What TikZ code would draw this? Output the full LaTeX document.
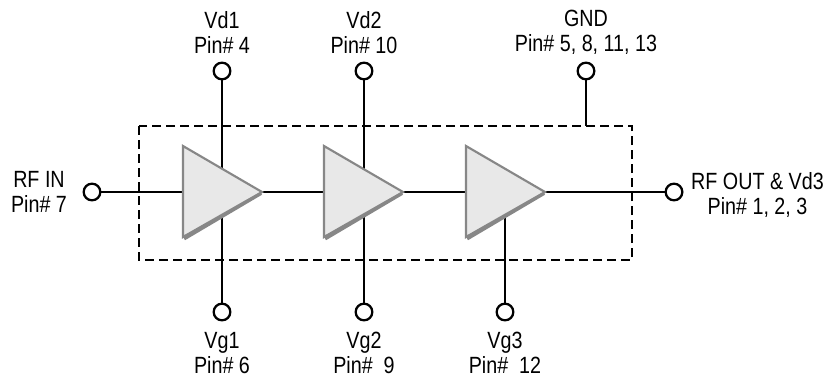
\documentclass[tikz,border=0pt]{standalone}
\usepackage{fontspec}
\setmainfont[FakeStretch=0.84]{Liberation Sans}
\usetikzlibrary{arrows,calc,positioning}
\definecolor{ampgrey}{rgb}{0.53, 0.53, 0.53}
\definecolor{ampfill}{rgb}{0.91, 0.91, 0.91}
\tikzstyle{pin} = [circle, draw=black, line width=1.7pt, fill=white, minimum size=12.5pt, inner sep=0pt]
\tikzstyle{wire} = [line width=1.7pt]
\tikzstyle{lbl} = [align=center, font=\fontsize{17.6}{18.8}\selectfont, inner sep=0pt]
\tikzstyle{amp} = [draw=ampgrey, line width=1.6pt, fill=ampfill, line join=miter]
\tikzstyle{ampshadow} = [draw=ampgrey, line width=3pt]
\def\ampl(#1,#2){%
\draw [ampshadow] (#1+1,238.5) -- (#1+78,193);
\draw [amp] (#1,146) -- (#1,237) -- (#1+79,192) -- cycle;
}
\begin{document}
\begin{tikzpicture}[x=0.75pt,y=-0.75pt]
\useasboundingbox (0,0) rectangle (830,378);
%pins
\draw (92,192) node (rfin) [pin] {};
\draw (674,192) node (rfout) [pin] {};
\draw (222,71) node (vd1) [pin] {};
\draw (364,71) node (vd2) [pin] {};
\draw (586,71) node (gnd) [pin] {};
\draw (222,312) node (vg1) [pin] {};
\draw (364,312) node (vg2) [pin] {};
\draw (505,312) node (vg3) [pin] {};
\coordinate (gndend) at (586,126);
\coordinate (a3) at (505,192);
%box
\draw [line width=2pt, dash pattern=on 7pt off 3.5pt] (139,126) rectangle (632,260);
%wires
\draw [wire] (rfin)--(rfout);
\draw [wire] (vd1)--(vg1);
\draw [wire] (vd2)--(vg2);
\draw [wire] (vg3)--(a3);
\draw [wire] (gnd)--(gndend);
%amps
\ampl(183,1)
\ampl(324,2)
\ampl(466,3)
%labels
\node [lbl] (lvd1) at (222,32.5) {Vd1\\Pin\# 4};
\node [lbl] (lvd2) at (364,32.5) {Vd2\\Pin\# 10};
\node [lbl] (lgnd) at (586,32.5) {GND\\Pin\# 5, 8, 11, 13};
\node [lbl] (lrfin) at (39,192) {RF IN\\Pin\# 7};
\node [lbl] (lrfout) at (757.5,195) {RF OUT \& Vd3\\Pin\# 1, 2, 3};
\node [lbl] (lvg1) at (222,353) {Vg1\\Pin\# 6};
\node [lbl] (lvg2) at (364,353) {Vg2\\Pin\#\ \ 9};
\node [lbl] (lvg3) at (505,353) {Vg3\\Pin\#\ \ 12};
\end{tikzpicture}
\end{document}
